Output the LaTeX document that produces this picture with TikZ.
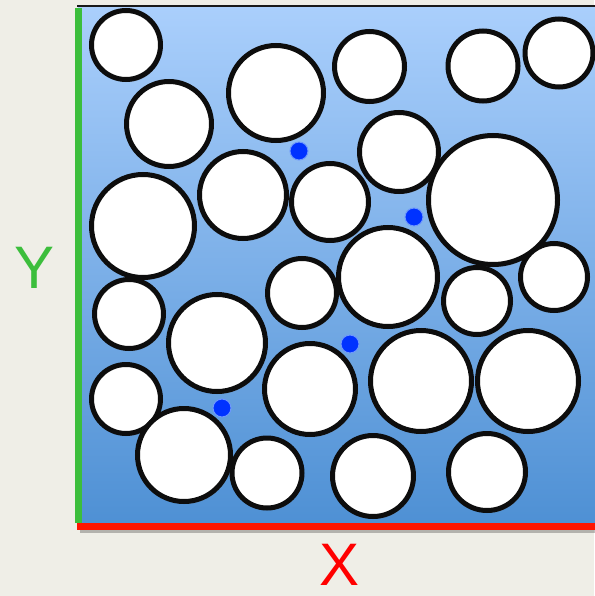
\documentclass[tikz,border=0pt]{standalone}
\usepackage{fontspec}
\setmainfont{Liberation Sans}
\usetikzlibrary{shadows}
\definecolor{paper}{RGB}{239,238,231}
\definecolor{skytop}{RGB}{170,207,252}
\definecolor{skybot}{RGB}{78,144,212}
\definecolor{axisgreen}{RGB}{60,190,60}
\definecolor{axisred}{RGB}{255,20,0}
\definecolor{poreblue}{RGB}{0,50,255}

\begin{document}
\begin{tikzpicture}[x=1pt,y=-1pt,
  grain/.style={draw=black!95,line width=5pt,fill=white,
    drop shadow={shadow xshift=1.5pt,shadow yshift=-2.5pt,opacity=0.3}},
  pore/.style={fill=poreblue,draw=poreblue!35!skytop,line width=1pt},
  axislabel/.style={font=\fontsize{60}{60}\selectfont,inner sep=0pt}]
\fill[paper] (0,0) rectangle (594,596);
\useasboundingbox (0,0) rectangle (594,596);
% box with shadow
\fill[black,opacity=0.25] (80,10) rectangle (600,533);
\shade[top color=skytop,bottom color=skybot] (78,6) rectangle (600,526);
\draw[black!90,line width=2pt] (77,6) -- (600,6);
\draw[axisgreen,line width=7pt] (78,8) -- (78,523);
\draw[axisred,line width=7pt] (77,526.5) -- (600,526.5);
% grains
\foreach \cx/\cy/\r in {126/45/37, 169/124/45, 276/93/50, 369.5/66.5/37.5,
    483/66/37.5, 559/53/36.5, 399/152/42, 493/200/67, 330/202/41, 243/195/46,
    143/226/54, 388/277/52, 302/293/37, 477/301/36, 554/277/36, 129/314/37,
    217/343/51, 310/389/48, 421/381/53, 528/381/53, 126/399/37, 184/455/49,
    267/473/37.5, 373/476/43, 487/472/41}
  \path[grain] (\cx,\cy) circle[radius=\r-2.5];
% pores
\foreach \px/\py in {299/151, 414/217, 350/344, 222/408}
  \path[pore] (\px,\py) circle[radius=9];
% axis labels
\node[axislabel,text=axisgreen] (ylab) at (35,268) {Y};
\node[axislabel,text=red] (xlab) at (340,565) {X};
\end{tikzpicture}
\end{document}
